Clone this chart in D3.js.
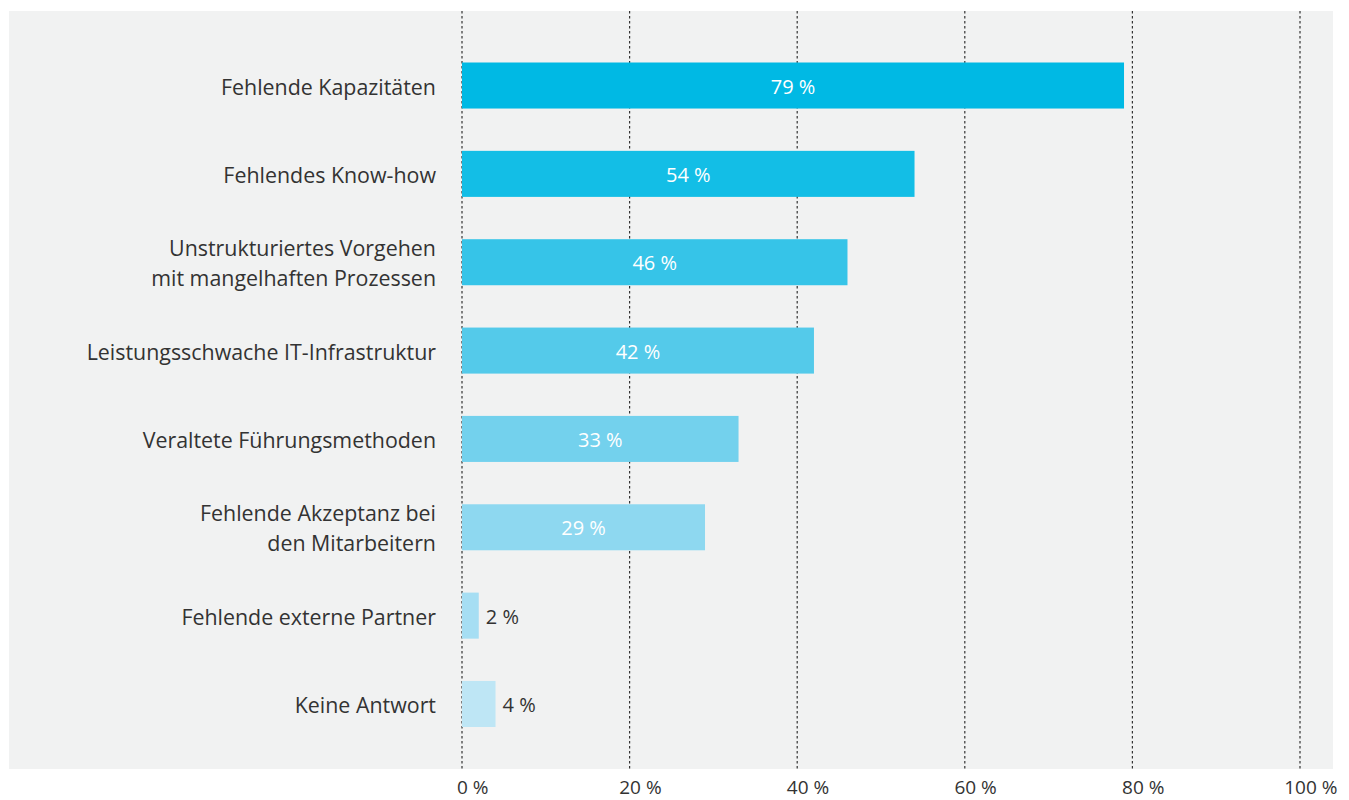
<!DOCTYPE html>
<html>
<head>
<meta charset="utf-8">
<script src="https://cdn.jsdelivr.net/npm/d3@7"></script>
<style>
  html, body { margin: 0; padding: 0; background: #ffffff; }
  svg { display: block; font-family: "Open Sans", "Noto Sans", sans-serif; }
</style>
</head>
<body>
<svg id="chart" width="1349" height="800"></svg>
<script>
// Survey answers: obstacles named, share of respondents in percent
const categories = [
  ["Fehlende Kapazitäten"],
  ["Fehlendes Know-how"],
  ["Unstrukturiertes Vorgehen", "mit mangelhaften Prozessen"],
  ["Leistungsschwache IT-Infrastruktur"],
  ["Veraltete Führungsmethoden"],
  ["Fehlende Akzeptanz bei", "den Mitarbeitern"],
  ["Fehlende externe Partner"],
  ["Keine Antwort"]
];
const values = [79, 54, 46, 42, 33, 29, 2, 4];
const barColors = ["#00b9e4", "#13bee6", "#36c4e8", "#54caea", "#73d1ed", "#8ed8f0", "#a6def3", "#bee6f5"];
const tickValues = [0, 20, 40, 60, 80, 100];

const svg = d3.select("#chart");
const keys = categories.map((c, i) => i);
const pct = d => d + " %";

// panel background
svg.append("rect")
  .attr("x", 9).attr("y", 11)
  .attr("width", 1324).attr("height", 758)
  .attr("fill", "#f1f2f2");

const x = d3.scaleLinear().domain([0, 100]).range([462, 1300]);
const y = d3.scaleBand().domain(keys).range([41.3, 748.2]).paddingInner(0.479).paddingOuter(0.24);

// dotted grid lines across the panel
svg.append("g").selectAll("line")
  .data(tickValues)
  .join("line")
  .attr("x1", d => x(d)).attr("x2", d => x(d))
  .attr("y1", 11).attr("y2", 769)
  .attr("stroke", "#333")
  .attr("stroke-width", 1.2)
  .attr("stroke-dasharray", "2.5,2.5");

// bottom axis labels: the number sits centred on its grid line, the unit trails it
const axisFont = 19;
const probe = svg.append("text")
  .attr("font-family", "'Open Sans', sans-serif")
  .attr("font-size", axisFont);
const numWidth = d => { probe.text(d); return probe.node().getComputedTextLength(); };
const shifts = new Map(tickValues.map(d => [d, numWidth(d)]));
probe.remove();

const axis = d3.axisBottom(x).tickValues(tickValues).tickSize(0).tickPadding(0)
  .tickFormat(pct);
const gAxis = svg.append("g").attr("transform", "translate(0,787)").call(axis);
gAxis.select(".domain").remove();
gAxis.selectAll("text")
  .attr("font-family", "'Open Sans', sans-serif")
  .attr("font-size", axisFont)
  .attr("fill", "#333333")
  .attr("dy", "0.36em")
  .attr("text-anchor", "start")
  .attr("x", d => -shifts.get(d) / 2);

// bars
svg.append("g").selectAll("rect")
  .data(values)
  .join("rect")
  .attr("x", x(0))
  .attr("y", (d, i) => y(i))
  .attr("width", d => x(d) - x(0))
  .attr("height", y.bandwidth())
  .attr("fill", (d, i) => barColors[i]);

// value labels: inside for wide bars, beside for narrow ones
svg.append("g").selectAll("text")
  .data(values)
  .join("text")
  .attr("x", d => d >= 10 ? (x(0) + x(d)) / 2 : x(d) + 7)
  .attr("y", (d, i) => y(i) + y.bandwidth() / 2)
  .attr("dy", "0.4em")
  .attr("text-anchor", d => d >= 10 ? "middle" : "start")
  .attr("font-size", 20)
  .attr("fill", d => d >= 10 ? "#ffffff" : "#333333")
  .text(pct);

// category labels
const lab = svg.append("g").selectAll("text")
  .data(categories)
  .join("text")
  .attr("x", 436)
  .attr("y", (d, i) => y(i) + y.bandwidth() / 2)
  .attr("text-anchor", "end")
  .attr("font-size", 21.4)
  .attr("fill", "#333333");
lab.each(function(lines) {
  const t = d3.select(this);
  const lh = 30;
  lines.forEach((s, j) => {
    t.append("tspan")
      .attr("x", 436)
      .attr("y", +t.attr("y") + (j - (lines.length - 1) / 2) * lh)
      .attr("dy", "0.42em")
      .text(s);
  });
});
</script>
</body>
</html>
